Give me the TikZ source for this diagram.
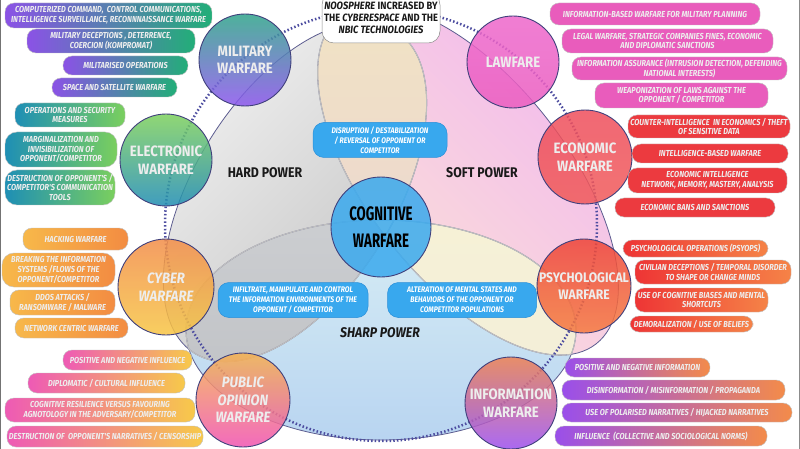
\documentclass[tikz,border=0pt]{standalone}
\usepackage{fontspec}
\setmainfont{Fira Sans}
\newfontfamily\pillfam[FakeStretch=0.85]{Fira Sans}
\newfontfamily\titlefam[FakeStretch=0.88]{Fira Sans}
\newfontfamily\cogfam[FakeStretch=0.68]{Fira Sans}
\usetikzlibrary{shapes.misc}
\definecolor{navy}{HTML}{40407C}
\definecolor{dotc}{HTML}{4D4DA0}
\definecolor{milL}{HTML}{8B52E6}\definecolor{milR}{HTML}{22AE78}
\definecolor{eleL}{HTML}{1E8FB5}\definecolor{eleR}{HTML}{7ACF5E}
\definecolor{cybL}{HTML}{F7B84A}\definecolor{cybR}{HTML}{F38C42}
\definecolor{pubL}{HTML}{EE5AB5}\definecolor{pubR}{HTML}{F7C94A}
\definecolor{lawC}{HTML}{E95CBC}
\definecolor{ecoC}{HTML}{EC3A3F}
\definecolor{psyL}{HTML}{EE3535}\definecolor{psyR}{HTML}{F58347}
\definecolor{infL}{HTML}{9A4FEA}\definecolor{infR}{HTML}{F38B4A}
\definecolor{cogC}{HTML}{3AA9EE}
\definecolor{blueB}{HTML}{38A8EE}
\definecolor{blueD}{HTML}{2A8FD8}
\definecolor{softA}{HTML}{F2B8EE}
\definecolor{softB}{HTML}{FCE4D6}
\definecolor{sharpA}{HTML}{D8EEF4}
\definecolor{sharpB}{HTML}{B8D4F1}
\definecolor{lensA}{HTML}{F1E3C3}
\definecolor{lensB}{HTML}{EBD5D2}
\definecolor{hsA}{HTML}{CCCED1}
\definecolor{hsB}{HTML}{BDBFC3}
\definecolor{ssA}{HTML}{F6F1D6}
\definecolor{ssB}{HTML}{F2EEDA}
\definecolor{milT}{HTML}{2FA48A}\definecolor{milB}{HTML}{8C55EE}
\definecolor{eleT}{HTML}{7DD05C}\definecolor{eleB}{HTML}{1F8CB4}
\definecolor{cybT}{HTML}{F38D48}\definecolor{cybB}{HTML}{F7C645}
\definecolor{pubT}{HTML}{F5B24E}\definecolor{pubB}{HTML}{F052B2}
\definecolor{infT}{HTML}{EE8052}\definecolor{infB}{HTML}{9B4FF0}
\definecolor{psyT}{HTML}{EE4438}\definecolor{psyB}{HTML}{F57A40}
\definecolor{ecoT}{HTML}{EF4E5C}\definecolor{ecoB}{HTML}{F05A5A}
\definecolor{lawT}{HTML}{EE68CC}\definecolor{lawB}{HTML}{EB5CC0}
\begin{document}
\begin{tikzpicture}[x=1pt,y=-1pt,
 hardT/.style={shift={(295,192)},rotate=58},
 softT/.style={shift={(468,180)},rotate=-52},
 sharpT/.style={shift={(381,330)}},
 outl/.style={draw=navy!85, line width=0.8pt},
 inl/.style={draw=black!25, line width=1.1pt},
 circ/.style={circle, draw=navy, line width=0.9pt, fill opacity=0.85, text opacity=1, align=center, inner sep=0pt, text=white!93!black, font=\titlefam\bfseries\fontsize{15}{17.5}\selectfont},
 circit/.style={font=\titlefam\bfseries\itshape\fontsize{15}{17.5}\selectfont},
 pillbase/.style={draw=black!25, line width=0.4pt, rounded corners=9pt, align=center, inner sep=1pt, text=white!93!black, font=\pillfam\bfseries\itshape\fontsize{8.7}{9.8}\selectfont},
 tall/.style={rounded corners=12pt},
 milp/.style={pillbase, left color=milL, right color=milR},
 elep/.style={pillbase, left color=eleL, right color=eleR},
 cybp/.style={pillbase, left color=cybL, right color=cybR},
 pubp/.style={pillbase, left color=pubL, right color=pubR},
 lawp/.style={pillbase, fill=lawC},
 ecop/.style={pillbase, fill=ecoC},
 psyp/.style={pillbase, left color=psyL, right color=psyR},
 infp/.style={pillbase, left color=infL, right color=infR},
 bluebox/.style={draw=blueD, line width=0.5pt, fill=blueB, rounded corners=11pt, align=center, inner sep=1pt, text=white, font=\pillfam\bfseries\itshape\fontsize{8.1}{10}\selectfont},
 powl/.style={font=\titlefam\bfseries\fontsize{14}{16}\selectfont, text=black!90}
]
\newcommand\pill[7]{\node[#2,minimum width={#5-#3},minimum height={#6-#4}] (#1) at ({(#3+#5)/2},{(#4+#6)/2}) {#7};}
\def\HE{(0,0) ellipse [x radius=190,y radius=100]}
\def\SE{(0,0) ellipse [x radius=208,y radius=100]}
\def\PE{(0,0) ellipse [x radius=195,y radius=110]}
\useasboundingbox (0,0) rectangle (800,449);
\fill[white] (0,0) rectangle (800,449);

% ---- Venn regions
\begin{scope}\clip[hardT] \HE;
 \shade[top color=black!5, bottom color=black!24, shading angle=45] (140,10) rectangle (450,370);
\end{scope}
\begin{scope}\clip[softT] \SE;
 \shade[top color=softA, bottom color=softB, shading angle=-45] (300,0) rectangle (640,370);
\end{scope}
\begin{scope}\clip[sharpT] \PE;
 \shade[top color=sharpA, bottom color=sharpB] (180,215) rectangle (580,445);
\end{scope}
\begin{scope}\clip[hardT] \HE; \clip[softT] \SE;
 \shade[top color=lensA, bottom color=lensB] (300,0) rectangle (450,300);
\end{scope}
\begin{scope}\clip[hardT] \HE; \clip[sharpT] \PE;
 \shade[top color=hsA, bottom color=hsB] (180,215) rectangle (450,445);
\end{scope}
\begin{scope}\clip[softT] \SE; \clip[sharpT] \PE;
 \shade[top color=ssA, bottom color=ssB] (300,215) rectangle (600,445);
\end{scope}
% ---- outlines
\draw[outl,hardT] \HE;
\draw[outl,softT] \SE;
\draw[outl,sharpT] \PE;
\begin{scope}\clip[softT] \SE; \draw[inl,hardT] \HE; \draw[inl,sharpT] \PE; \end{scope}
\begin{scope}\clip[hardT] \HE; \draw[inl,softT] \SE; \draw[inl,sharpT] \PE; \end{scope}
\begin{scope}\clip[sharpT] \PE; \draw[inl,hardT] \HE; \draw[inl,softT] \SE; \end{scope}
% ---- noosphere dotted circle
\draw[dotc, line width=2.5pt, dash pattern=on 1.5pt off 2.2pt] (381,225) circle [radius=216];

% ---- frame
\draw[black!55, line width=2.5pt] (0,0) -- (0,449);
\draw[black!45, line width=2pt] (800,0) -- (800,449);

% ---- labels
\node[powl] (hp) at (265,173) {HARD POWER};
\node[powl] (sp) at (482,173) {SOFT POWER};
\node[powl,font=\titlefam\bfseries\itshape\fontsize{14}{16}\selectfont] (shp) at (380,333) {SHARP POWER};

% ---- blue boxes
\node[bluebox, minimum width=134, minimum height=35] (disr) at (380,140) {DISRUPTION / DESTABILIZATION\\/ REVERSAL OF OPPONENT OR\\COMPETITOR};
\node[bluebox, minimum width=150, minimum height=35] (infl) at (293,300) {INFILTRATE, MANIPULATE AND CONTROL\\THE INFORMATION ENVIRONMENTS OF THE\\OPPONENT / COMPETITOR};
\node[bluebox, minimum width=149, minimum height=35] (alt) at (462,300) {ALTERATION OF MENTAL STATES AND\\BEHAVIORS OF THE OPPONENT OR\\COMPETITOR POPULATIONS};

% ---- circles
\node[circ, top color=milT, bottom color=milB, minimum size=92] (mil) at (245,60) {MILITARY\\WARFARE};
\node[circ, top color=lawT, bottom color=lawB, minimum size=92] (law) at (513,62) {LAWFARE};
\node[circ, top color=eleT, bottom color=eleB, minimum size=92] (ele) at (166,160) {ELECTRONIC\\WARFARE};
\node[circ, top color=ecoT, bottom color=ecoB, minimum size=94] (eco) at (585,157) {ECONOMIC\\WARFARE};
\node[circ, circit, top color=cybT, bottom color=cybB, minimum size=96] (cyb) at (166,287) {CYBER\\WARFARE};
\node[circ, top color=psyT, bottom color=psyB, minimum size=94, font=\titlefam\bfseries\fontsize{13.8}{17.5}\selectfont] (psy) at (584,286) {PSYCHOLOGICAL\\WARFARE};
\node[circ, circit, top color=pubT, bottom color=pubB, minimum size=94] (pub) at (243,400) {PUBLIC\\OPINION\\WARFARE};
\node[circ, top color=infT, bottom color=infB, minimum size=92] (inf) at (511,403) {INFORMATION\\WARFARE};
\node[circ, fill=cogC, minimum size=100, text=black, font=\cogfam\bfseries\fontsize{19.5}{27}\selectfont] (cog) at (381,227) {COGNITIVE\\WARFARE};

% ---- noosphere box
\node[draw=black!45, line width=0.5pt, fill=white, rounded corners=12pt, minimum width=118, minimum height=50, align=center, inner sep=0pt, font=\titlefam\bfseries\fontsize{10.6}{12}\selectfont, text=black!90] (noo) at (381,18) {\textit{NOOSPHERE} INCREASED BY\\THE \textit{CYBERESPACE} AND THE\\\textit{NBIC TECHNOLOGIES}};

% ---- pills: military
\pill{m1}{milp}{5}{3}{212}{28}{COMPUTERIZED COMMAND,\ \ CONTROL COMMUNICATIONS,\\INTELLIGENCE SURVEILLANCE, RECONNNAISSANCE WARFARE}
\pill{m2}{milp}{27}{29}{195}{53}{MILITARY DECEPTIONS , DETERRENCE,\\COERCION (KOMPROMAT)}
\pill{m3}{milp}{63}{56}{188}{75}{MILITARISED OPERATIONS}
\pill{m4}{milp}{52}{78}{177}{97}{SPACE AND SATELLITE WARFARE}
% electronic
\pill{e1}{elep}{15}{103}{125}{127}{OPERATIONS AND SECURITY\\MEASURES}
\pill{e2}{elep,tall}{5}{132}{117}{167}{MARGINALIZATION AND\\INVISIBILIZATION OF\\OPPONENT/COMPETITOR}
\pill{e3}{elep,tall}{5}{170}{115}{205}{DESTRUCTION OF OPPONENT'S /\\COMPETITOR'S COMMUNICATION\\TOOLS}
% cyber
\pill{c1}{cybp}{23}{228}{128}{250}{HACKING WARFARE}
\pill{c2}{cybp,tall}{2}{253}{115}{287}{BREAKING THE INFORMATION\\SYSTEMS /FLOWS OF THE\\OPPONENT/COMPETITOR}
\pill{c3}{cybp}{10}{290}{115}{315}{DDOS ATTACKS /\\RANSOMWARE / MALWARE}
\pill{c4}{cybp}{15}{318}{128}{338}{NETWORK CENTRIC WARFARE}
% public opinion
\pill{p1}{pubp}{63}{350}{192}{370}{POSITIVE AND NEGATIVE INFLUENCE}
\pill{p2}{pubp}{28}{373}{185}{393}{DIPLOMATIC / CULTURAL INFLUENCE}
\pill{p3}{pubp}{5}{398}{195}{422}{COGNITIVE RESILIENCE VERSUS FAVOURING\\AGNOTOLOGY IN THE ADVERSARY/COMPETITOR}
\pill{p4}{pubp}{7}{426}{203}{447}{DESTRUCTION OF\ \ OPPONENT'S NARRATIVES / CENSORSHIP}
% lawfare
\pill{l1}{lawp}{550}{3}{760}{25}{INFORMATION-BASED WARFARE FOR MILITARY PLANNING}
\pill{l2}{lawp}{562}{29}{773}{53}{LEGAL WARFARE, STRATEGIC COMPANIES FINES, ECONOMIC\\AND DIPLOMATIC SANCTIONS}
\pill{l3}{lawp}{572}{57}{787}{80}{INFORMATION ASSURANCE (INTRUSION DETECTION, DEFENDING\\NATIONAL INTERESTS)}
\pill{l4}{lawp}{595}{83}{768}{108}{WEAPONIZATION OF LAWS AGAINST THE\\OPPONENT / COMPETITOR}
% economic
\pill{k1}{ecop}{628}{115}{790}{138}{COUNTER-INTELLIGENCE\ \ IN ECONOMICS / THEFT\\OF SENSITIVE DATA}
\pill{k2}{ecop}{632}{144}{788}{163}{INTELLIGENCE-BASED WARFARE}
\pill{k3}{ecop}{628}{168}{787}{193}{ECONOMIC INTELLIGENCE\\NETWORK, MEMORY, MASTERY, ANALYSIS}
\pill{k4}{ecop}{615}{198}{775}{217}{ECONOMIC BANS AND SANCTIONS}
% psychological
\pill{s1}{psyp}{623}{240}{768}{257}{PSYCHOLOGICAL OPERATIONS (PSYOPS)}
\pill{s2}{psyp}{635}{260}{791}{284}{CIVILIAN DECEPTIONS / TEMPORAL DISORDER\\TO SHAPE OR CHANGE MINDS}
\pill{s3}{psyp}{635}{288}{768}{312}{USE OF COGNITIVE BIASES AND MENTAL\\SHORTCUTS}
\pill{s4}{psyp}{630}{316}{753}{332}{DEMORALIZATION / USE OF BELIEFS}
% information
\pill{i1}{infp}{565}{358}{710}{377}{POSITIVE AND NEGATIVE INFORMATION}
\pill{i2}{infp}{562}{380}{785}{400}{DISINFORMATION / MISINFORMATION / PROPAGANDA}
\pill{i3}{infp}{562}{403}{792}{422}{USE OF POLARISED NARRATIVES / HIJACKED NARRATIVES}
\pill{i4}{infp}{555}{426}{767}{446}{INFLUENCE\ \ (COLLECTIVE AND SOCIOLOGICAL NORMS)}
\end{tikzpicture}
\end{document}
